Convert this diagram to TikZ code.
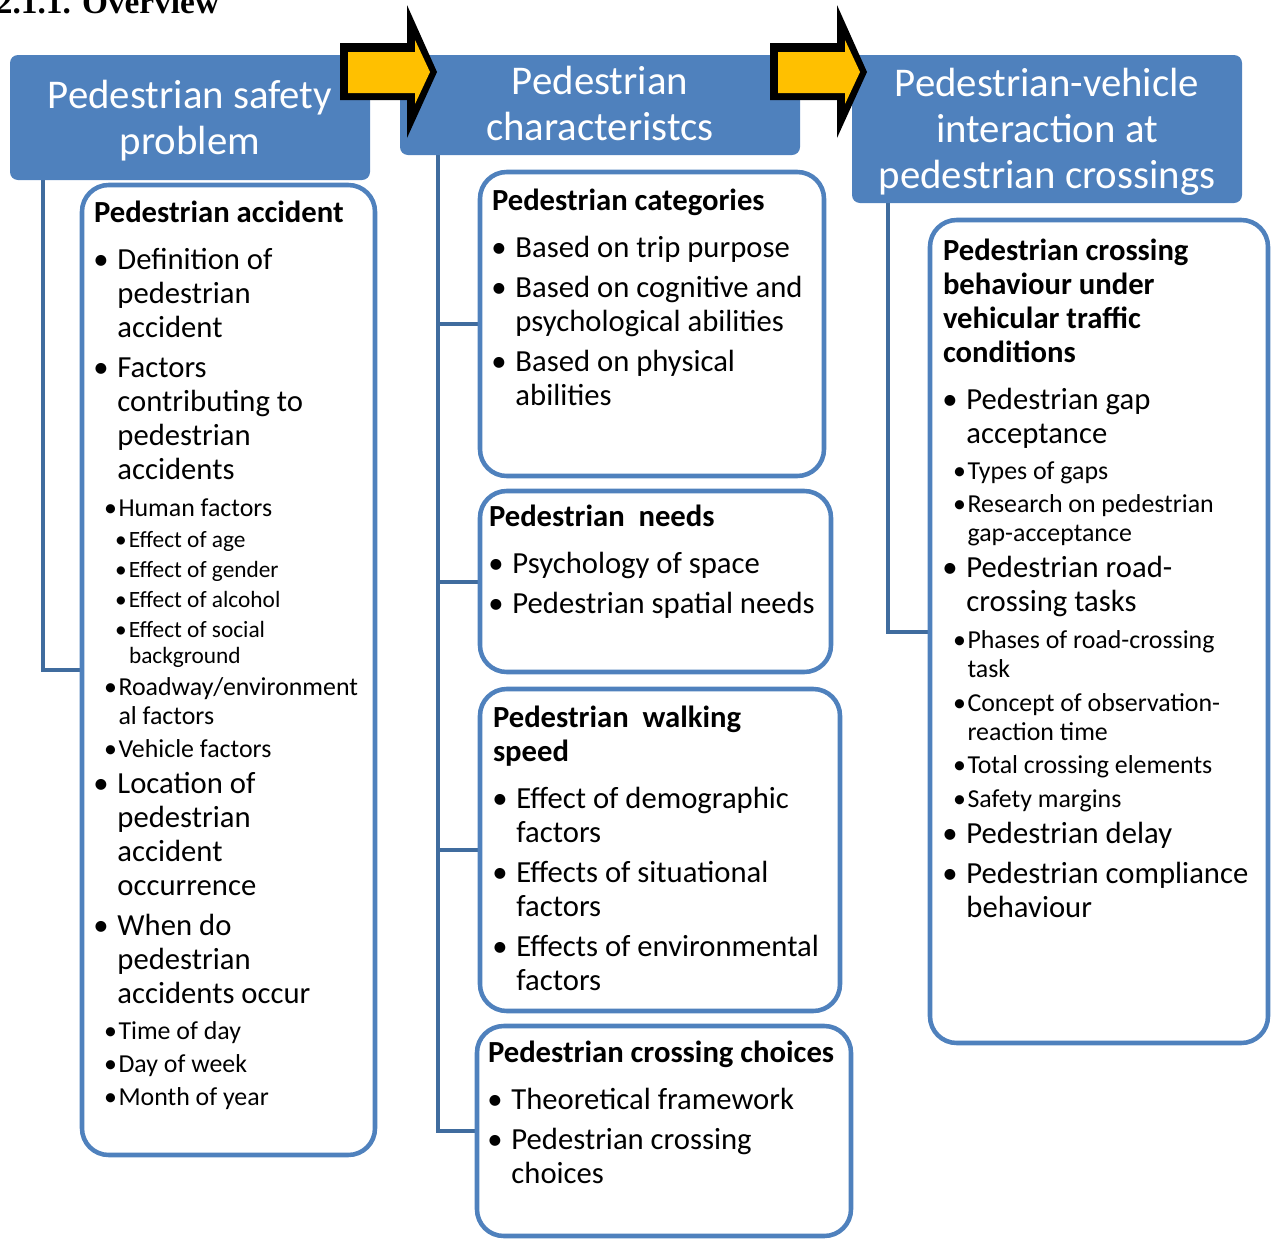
\documentclass[tikz,border=0pt]{standalone}
\usepackage{fontspec}
\setmainfont{Carlito}
\newfontfamily\titlefont{Liberation Serif}
\usetikzlibrary{calc,backgrounds}
\definecolor{hdblue}{RGB}{79,129,189}
\definecolor{lnblue}{RGB}{64,108,158}
\definecolor{arrowyellow}{RGB}{255,192,0}
\newdimen\px \px=0.75pt

% list levels
\newcommand{\boxhead}[1]{{\fontsize{23}{25.5}\selectfont\bfseries #1\par}\vspace{5.6pt}}
\newcommand{\lvA}[2][4.5pt]{{\fontsize{23}{25.5}\selectfont\vspace{#1}\hangindent=17.6pt\hangafter=1\noindent\makebox[17.6pt][l]{\hspace{5.25pt}\makebox[0pt]{\textbullet}}#2\par}}
\newcommand{\lvB}[2][3pt]{{\fontsize{19.4}{21.75}\selectfont\vspace{#1}\hangindent=18.4pt\hangafter=1\noindent\makebox[18.4pt][l]{\hspace{12.4pt}\makebox[0pt]{\textbullet}}#2\par}}
\newcommand{\lvC}[2][3pt]{{\fontsize{17.5}{19.5}\selectfont\vspace{#1}\hangindent=26.25pt\hangafter=1\noindent\makebox[26.25pt][l]{\hspace{20.25pt}\makebox[0pt]{\textbullet}}#2\par}}
% header line moved down a little
\newcommand{\hdline}[1]{\raisebox{-2.25pt}[\height][\depth]{#1}}

\tikzset{
  headbox/.style={fill=hdblue, draw=none, rounded corners=6pt, text=white,
    font=\fontsize{30.6}{34.5}\selectfont, align=center, inner sep=0pt},
  card/.style={draw=hdblue, line width=3.4pt, fill=white, rounded corners=20pt, inner sep=0pt},
  link/.style={draw=lnblue, line width=3pt},
  txt/.style={anchor=base west, inner sep=0pt, outer sep=0pt}
}

\begin{document}
\begin{tikzpicture}[x=0.75pt, y=-0.75pt]
  \useasboundingbox (0,0) rectangle (1272,1239);
  % heading of the section
  \node[txt, font=\titlefont\bfseries\fontsize{25}{29}\selectfont] (title) at (-4,13) {2.1.1. Overview};

  % white boxes
  \node[card, minimum width=293\px, minimum height=970\px] (acc) at (228.5,670) {};
  \node[card, minimum width=344\px, minimum height=304\px] (cat) at (652,324) {};
  \node[card, minimum width=351\px, minimum height=181\px] (need) at (655.5,581.5) {};
  \node[card, minimum width=360\px, minimum height=322\px] (speed) at (660,850) {};
  \node[card, minimum width=374\px, minimum height=210\px] (choice) at (664,1131) {};
  \node[card, minimum width=338\px, minimum height=823\px] (cross) at (1099,631.5) {};

  % blue headers
  \node[headbox, minimum width=360\px, minimum height=125\px] (hdA) at (190,117.5) {\hdline{Pedestrian safety}\\\hdline{problem}};
  \node[headbox, minimum width=400\px, minimum height=100\px] (hdB) at (600,105) {\raisebox{2pt}{Pedestrian}\\\raisebox{2pt}{characteristcs}};
  \node[headbox, minimum width=390\px, minimum height=148\px] (hdC) at (1047,129) {\hdline{Pedestrian-vehicle}\\\hdline{interaction at}\\\hdline{pedestrian crossings}};

  % connectors
  \begin{scope}[on background layer]
    \draw[link] ($(hdA.south west)+(33,0)$) |- (acc.west);
    \foreach \b in {cat,need,speed,choice}
      \draw[link] ($(hdB.south west)+(38,0)$) |- (\b.west);
    \draw[link] ($(hdC.south west)+(36,0)$) |- (cross.west);
  \end{scope}

  % yellow arrows
  \foreach \s in {0,430}{
    \begin{scope}[xshift=\s\px]
      \fill[black] (340,43) -- (407,43) -- (407,5) -- (437,72) -- (407,138) -- (407,100) -- (340,100) -- cycle;
      \fill[arrowyellow] (348,52) -- (415,52) -- (415,40) -- (430,72) -- (415,104) -- (415,93) -- (348,93) -- cycle;
    \end{scope}
  }

  % box texts
  \node[txt] (accText) at (94,222) {\begin{minipage}[t]{300pt}
    \boxhead{Pedestrian accident}
    \lvA{Definition of\\pedestrian\\accident}
    \lvA{Factors\\contributing to\\pedestrian\\accidents}
    \lvB[6pt]{Human factors}
    \lvC[3.4pt]{Effect of age}
    \lvC{Effect of gender}
    \lvC{Effect of alcohol}
    \lvC{Effect of social\\background}
    \lvB[2.4pt]{Roadway/environment\\al factors}
    \lvB{Vehicle factors}
    \lvA[1.9pt]{Location of\\pedestrian\\accident\\occurrence}
    \lvA{When do\\pedestrian\\accidents occur}
    \lvB[4.9pt]{Time of day}
    \lvB{Day of week}
    \lvB{Month of year}
  \end{minipage}};
  \node[txt] (catText) at (492,210) {\begin{minipage}[t]{300pt}
    \boxhead{Pedestrian categories}
    \lvA{Based on trip purpose}
    \lvA{Based on cognitive and\\psychological abilities}
    \lvA{Based on physical\\abilities}
  \end{minipage}};
  \node[txt] (needText) at (489,526) {\begin{minipage}[t]{300pt}
    \boxhead{Pedestrian\ \ needs}
    \lvA{Psychology of space}
    \lvA{Pedestrian spatial needs}
  \end{minipage}};
  \node[txt] (speedText) at (493,727) {\begin{minipage}[t]{300pt}
    \boxhead{Pedestrian\ \ walking\\speed}
    \lvA{Effect of demographic\\factors}
    \lvA{Effects of situational\\factors}
    \lvA{Effects of environmental\\factors}
  \end{minipage}};
  \node[txt] (choiceText) at (488,1062) {\begin{minipage}[t]{300pt}
    \boxhead{Pedestrian crossing choices}
    \lvA{Theoretical framework}
    \lvA{Pedestrian crossing\\choices}
  \end{minipage}};
  \node[txt] (crossText) at (943,260) {\begin{minipage}[t]{300pt}
    \boxhead{Pedestrian crossing\\behaviour under\\vehicular traffic\\conditions}
    \lvA{Pedestrian gap\\acceptance}
    \lvB[5.25pt]{Types of gaps}
    \lvB{Research on pedestrian\\gap-acceptance}
    \lvA[1.5pt]{Pedestrian road-\\crossing tasks}
    \lvB[6pt]{Phases of road-crossing\\task}
    \lvB[3.75pt]{Concept of observation-\\reaction time}
    \lvB{Total crossing elements}
    \lvB[3.75pt]{Safety margins}
    \lvA[1.5pt]{Pedestrian delay}
    \lvA{Pedestrian compliance\\behaviour}
  \end{minipage}};
\end{tikzpicture}
\end{document}
